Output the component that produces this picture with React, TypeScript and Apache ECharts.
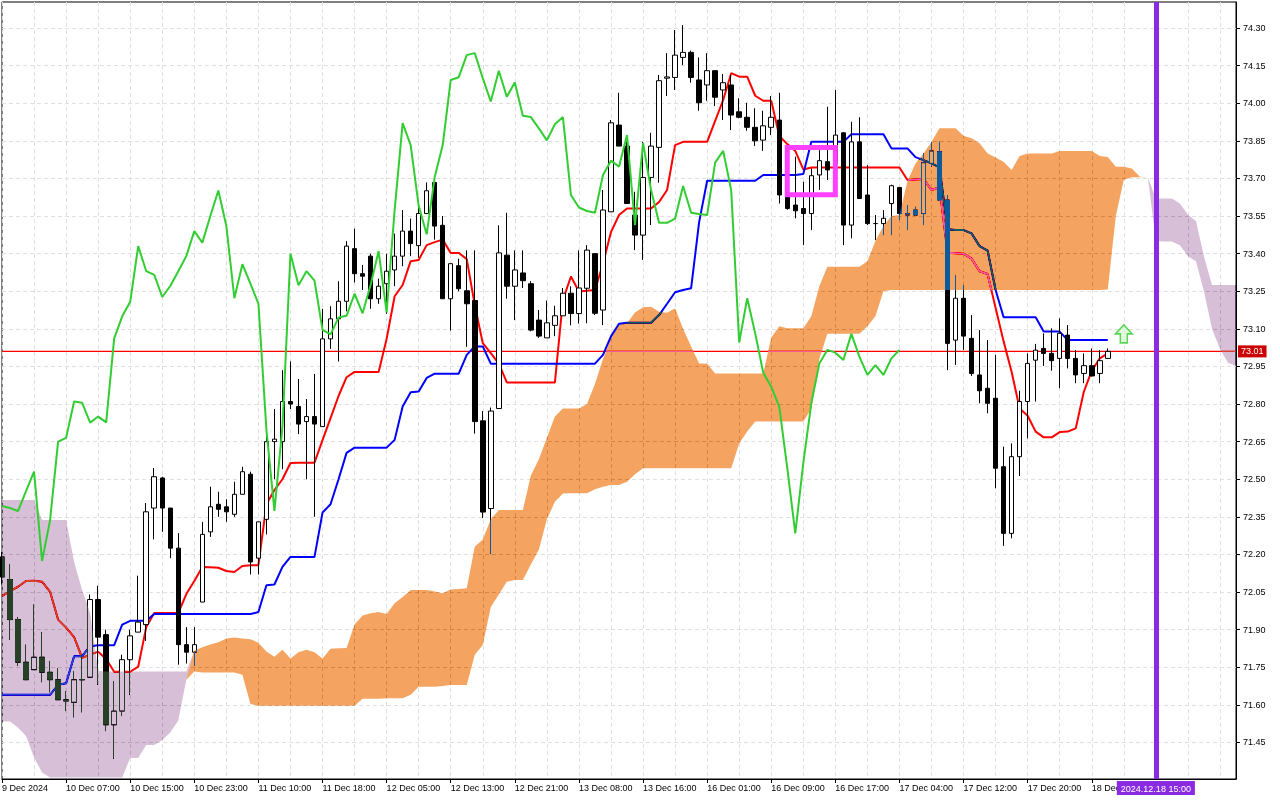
import React, { useEffect, useRef } from "react";
import * as echarts from "echarts";

// ---------- data (hourly bars, index k = slot on the axis) ----------
const timeLabels = [
  "9 Dec 2024", "10 Dec 07:00", "10 Dec 15:00", "10 Dec 23:00", "11 Dec 10:00", "11 Dec 18:00",
  "12 Dec 05:00", "12 Dec 13:00", "12 Dec 21:00", "13 Dec 08:00", "13 Dec 16:00", "16 Dec 01:00",
  "16 Dec 09:00", "16 Dec 17:00", "17 Dec 04:00", "17 Dec 12:00", "17 Dec 20:00", "18 Dec 04:00",
];
const BAR_SLOTS = 155;

const opens = [
  72.19, 72.10, 71.94, 71.77, 71.74, 71.79, 71.73, 71.70, 71.62, 71.61,
  71.70, 71.71, 72.02, 71.88, 71.52, 71.575, 71.78, 71.89, 71.92, 72.385,
  72.505, 72.385, 72.225, 71.84, 71.81, 72.01, 72.29, 72.40, 72.39, 72.36,
  72.44, 72.52, 72.185, 72.34, 72.65, 72.65, 72.81, 72.79, 72.73, 72.75,
  72.71, 73.06, 73.14, 73.21, 73.42, 73.32, 73.39, 73.22, 73.28, 73.335,
  73.39, 73.49, 73.432, 73.56, 73.684, 73.513, 73.22, 73.352, 73.252, 73.213,
  72.733, 72.383, 72.782, 73.394, 73.27, 73.323, 73.28, 73.135, 73.064, 73.114,
  73.152, 73.242, 73.161, 73.262, 73.40, 73.175, 73.567, 73.913, 73.829, 73.554,
  73.474, 73.704, 73.824, 74.10, 74.103, 74.183, 74.203, 74.093, 74.073, 74.13,
  74.053, 74.073, 73.966, 73.944, 73.904, 73.853, 73.904, 73.933, 73.627, 73.594,
  73.58, 73.56, 73.714, 73.767, 73.76, 73.882, 73.514, 73.846, 73.634, 73.52,
  73.52, 73.60, 73.664, 73.554, 73.574, 73.56, 73.76, 73.807, 73.614, 73.055,
  73.222, 73.062, 72.916, 72.863, 72.823, 72.55, 72.284, 72.59, 72.81, 72.975,
  73.022, 73.002, 72.982, 73.075, 72.982, 72.922, 72.953, 72.922, 72.982,
];
const highs = [
  72.21, 72.16, 71.95, 71.84, 72.00, 71.89, 71.775, 71.745, 71.655, 71.735,
  71.80, 72.04, 72.075, 71.90, 71.695, 71.80, 71.90, 72.115, 72.405, 72.545,
  72.51, 72.385, 72.285, 71.91, 71.91, 72.33, 72.47, 72.45, 72.42, 72.49,
  72.55, 72.53, 72.33, 72.68, 72.78, 72.935, 72.97, 72.90, 72.82, 72.92,
  73.18, 73.19, 73.29, 73.45, 73.50, 73.355, 73.40, 73.30, 73.40, 73.48,
  73.574, 73.54, 73.59, 73.684, 73.69, 73.55, 73.36, 73.38, 73.413, 73.413,
  72.772, 72.786, 73.513, 73.563, 73.413, 73.413, 73.29, 73.175, 73.213, 73.192,
  73.263, 73.27, 73.413, 73.434, 73.40, 73.654, 73.933, 74.042, 73.873, 73.647,
  73.846, 73.882, 74.113, 74.20, 74.292, 74.312, 74.21, 74.183, 74.20, 74.13,
  74.117, 74.113, 74.02, 74.002, 73.98, 73.97, 74.029, 74.042, 73.63, 73.787,
  73.687, 73.74, 73.813, 73.986, 74.053, 73.885, 73.926, 73.944, 73.753, 73.554,
  73.574, 73.675, 73.664, 73.594, 73.587, 73.80, 73.846, 73.846, 73.634, 73.315,
  73.275, 73.155, 73.095, 73.055, 72.996, 72.63, 72.643, 72.853, 73.002, 73.04,
  73.082, 73.102, 73.142, 73.115, 73.015, 73.002, 73.022, 73.015, 73.022,
];
const lows = [
  72.08, 71.86, 71.755, 71.70, 71.74, 71.69, 71.65, 71.62, 71.575, 71.55,
  71.57, 71.71, 71.68, 71.495, 71.385, 71.555, 71.64, 71.89, 71.855, 72.26,
  72.29, 72.185, 71.76, 71.765, 71.755, 72.01, 72.27, 72.35, 72.33, 72.35,
  72.44, 72.12, 72.12, 72.28, 72.50, 72.54, 72.78, 72.68, 72.50, 72.35,
  72.71, 73.02, 72.97, 73.17, 73.285, 73.255, 73.18, 73.20, 73.16, 73.27,
  73.35, 73.39, 73.384, 73.56, 73.456, 73.22, 73.093, 73.25, 73.028, 72.682,
  72.345, 72.202, 72.782, 73.22, 73.135, 73.263, 73.09, 73.064, 73.064, 73.071,
  73.152, 73.114, 73.121, 73.122, 73.155, 73.115, 73.567, 73.829, 73.60, 73.414,
  73.375, 73.514, 73.683, 74.029, 74.053, 74.152, 74.082, 73.97, 74.01, 73.989,
  73.933, 73.893, 73.94, 73.89, 73.83, 73.81, 73.873, 73.60, 73.575, 73.541,
  73.434, 73.494, 73.654, 73.694, 73.75, 73.434, 73.461, 73.62, 73.514, 73.454,
  73.474, 73.474, 73.534, 73.494, 73.55, 73.514, 73.747, 73.61, 72.935, 72.956,
  73.016, 72.912, 72.803, 72.763, 72.464, 72.234, 72.264, 72.513, 72.663, 72.81,
  72.952, 72.933, 72.863, 72.942, 72.883, 72.883, 72.91, 72.883, 72.98,
];
const closes = [
  72.11, 71.94, 71.77, 71.70, 71.79, 71.73, 71.70, 71.62, 71.615, 71.70,
  71.70, 72.02, 71.87, 71.52, 71.575, 71.78, 71.875, 71.93, 72.37, 72.51,
  72.385, 72.225, 71.84, 71.81, 71.84, 72.28, 72.39, 72.38, 72.37, 72.44,
  72.53, 72.17, 72.33, 72.65, 72.66, 72.81, 72.80, 72.72, 72.75, 72.72,
  73.06, 73.14, 73.21, 73.43, 73.32, 73.31, 73.22, 73.27, 73.33, 73.39,
  73.49, 73.44, 73.56, 73.651, 73.51, 73.22, 73.36, 73.26, 73.20, 72.73,
  72.369, 72.772, 73.403, 73.27, 73.335, 73.292, 73.095, 73.071, 73.124, 73.152,
  73.242, 73.161, 73.263, 73.414, 73.162, 73.574, 73.922, 73.829, 73.60, 73.474,
  73.704, 73.829, 74.09, 74.105, 74.192, 74.203, 74.103, 74.002, 74.13, 74.024,
  74.082, 73.953, 73.944, 73.904, 73.85, 73.91, 73.944, 73.634, 73.58, 73.571,
  73.56, 73.711, 73.771, 73.734, 73.873, 73.514, 73.846, 73.62, 73.52, 73.52,
  73.541, 73.671, 73.56, 73.56, 73.554, 73.763, 73.81, 73.614, 73.042, 73.222,
  73.071, 72.922, 72.853, 72.803, 72.544, 72.284, 72.59, 72.81, 72.962, 73.015,
  73.002, 72.973, 73.082, 72.982, 72.916, 72.953, 72.912, 72.973, 73.01,
];

const tenkan = [
  72.034, 72.054, 72.071, 72.094, 72.095, 72.091, 72.051, 71.94, 71.908, 71.87,
  71.787, 71.80, 71.812, 71.783, 71.732, 71.732, 71.732, 71.752, 71.91, 71.966,
  71.966, 71.966, 71.966, 72.042, 72.094, 72.15, 72.149, 72.147, 72.134, 72.13,
  72.154, 72.157, 72.157, 72.40, 72.457, 72.50, 72.565, 72.566, 72.566, 72.566,
  72.656, 72.744, 72.832, 72.907, 72.928, 72.928, 72.928, 72.928, 73.06, 73.23,
  73.275, 73.37, 73.375, 73.434, 73.446, 73.456, 73.403, 73.403, 73.378, 73.195,
  73.043, 73.003, 72.961, 72.886, 72.886, 72.886, 72.886, 72.886, 72.886, 72.886,
  73.215, 73.309, 73.249, 73.252, 73.255, 73.36, 73.486, 73.554, 73.58, 73.58,
  73.58, 73.58, 73.606, 73.654, 73.833, 73.846, 73.846, 73.846, 73.846, 73.93,
  74.013, 74.12, 74.106, 74.106, 74.03, 74.01, 74.01, 73.87, 73.837, 73.81,
  73.736, 73.744, 73.744, 73.744, 73.744, 73.744, 73.744, 73.744, 73.744, 73.744,
  73.744, 73.744, 73.744, 73.694, 73.696, 73.698, 73.654, 73.665, 73.404, 73.402,
  73.40, 73.38, 73.33, 73.319, 73.183, 73.05, 72.928, 72.782, 72.753, 72.69,
  72.667, 72.667, 72.688, 72.69, 72.703, 72.848, 72.933, 72.982, 73.002,
];
const kijun = [
  71.64, 71.64, 71.64, 71.64, 71.64, 71.64, 71.64, 71.68, 71.686, 71.794,
  71.794, 71.834, 71.838, 71.838, 71.838, 71.92, 71.935, 71.935, 71.935, 71.962,
  71.962, 71.962, 71.962, 71.962, 71.962, 71.962, 71.962, 71.962, 71.962, 71.962,
  71.962, 71.962, 71.97, 72.077, 72.08, 72.15, 72.19, 72.19, 72.19, 72.19,
  72.367, 72.40, 72.50, 72.605, 72.626, 72.626, 72.626, 72.626, 72.626, 72.657,
  72.79, 72.847, 72.85, 72.904, 72.921, 72.921, 72.921, 72.921, 72.996, 73.03,
  73.03, 72.961, 72.961, 72.961, 72.961, 72.961, 72.961, 72.961, 72.961, 72.961,
  72.961, 72.961, 72.961, 72.961, 72.961, 72.996, 73.07, 73.12, 73.124, 73.124,
  73.124, 73.124, 73.155, 73.20, 73.246, 73.255, 73.262, 73.526, 73.691, 73.691,
  73.691, 73.691, 73.691, 73.691, 73.691, 73.714, 73.714, 73.714, 73.714, 73.714,
  73.718, 73.846, 73.846, 73.846, 73.846, 73.846, 73.876, 73.876, 73.876, 73.876,
  73.876, 73.82, 73.82, 73.82, 73.785, 73.773, 73.76, 73.744, 73.497, 73.494,
  73.494, 73.481, 73.43, 73.412, 73.255, 73.146, 73.146, 73.146, 73.146, 73.146,
  73.089, 73.089, 73.089, 73.055, 73.055, 73.055, 73.055, 73.055, 73.055,
];
const chikou = [
  72.393, 72.385, 72.373, 72.453, 72.53, 72.174, 72.337, 72.65, 72.665, 72.81,
  72.805, 72.726, 72.75, 72.727, 73.062, 73.15, 73.208, 73.43, 73.33, 73.315,
  73.227, 73.271, 73.33, 73.39, 73.49, 73.444, 73.55, 73.652, 73.51, 73.222,
  73.358, 73.28, 73.201, 72.697, 72.374, 72.71, 73.40, 73.274, 73.33, 73.292,
  73.096, 73.078, 73.145, 73.152, 73.24, 73.162, 73.275, 73.41, 73.166, 73.574,
  73.921, 73.833, 73.591, 73.477, 73.706, 73.833, 74.093, 74.104, 74.192, 74.20,
  74.10, 74.007, 74.13, 74.026, 74.083, 73.95, 73.945, 73.90, 73.852, 73.916,
  73.945, 73.634, 73.584, 73.57, 73.563, 73.714, 73.771, 73.747, 73.873, 73.514,
  73.842, 73.654, 73.523, 73.523, 73.54, 73.67, 73.563, 73.558, 73.554, 73.763,
  73.81, 73.654, 73.045, 73.222, 73.082, 72.925, 72.869, 72.79, 72.545, 72.284,
  72.564, 72.803, 72.962, 73.016, 73.005, 72.976, 73.08, 72.989, 72.916, 72.955,
  72.916, 72.982, 73.016,
];
const spanA = [
  71.533, 71.533, 71.508, 71.476, 71.39, 71.33, 71.31, 71.31, 71.31, 71.31,
  71.31, 71.31, 71.31, 71.31, 71.31, 71.31, 71.388, 71.388, 71.44, 71.44,
  71.46, 71.49, 71.537, 71.70, 71.816, 71.83, 71.841, 71.85, 71.865, 71.869,
  71.865, 71.862, 71.848, 71.813, 71.792, 71.82, 71.785, 71.81, 71.82, 71.81,
  71.785, 71.824, 71.826, 71.827, 71.92, 71.956, 71.965, 71.97, 71.962, 72.005,
  72.03, 72.058, 72.058, 72.058, 72.052, 72.045, 72.06, 72.062, 72.065, 72.231,
  72.26, 72.34, 72.377, 72.377, 72.377, 72.377, 72.515, 72.58, 72.665, 72.75,
  72.782, 72.782, 72.782, 72.80, 72.88, 72.98, 73.06, 73.115, 73.122, 73.165,
  73.186, 73.188, 73.168, 73.164, 73.182, 73.10, 73.03, 72.962, 72.962, 72.922,
  72.922, 72.922, 72.922, 72.922, 72.922, 72.922, 73.065, 73.11, 73.102, 73.102,
  73.102, 73.15, 73.27, 73.348, 73.348, 73.348, 73.348, 73.348, 73.37, 73.45,
  73.51, 73.55, 73.554, 73.69, 73.76, 73.80, 73.846, 73.90, 73.90, 73.90,
  73.87, 73.86, 73.84, 73.80, 73.784, 73.767, 73.734, 73.79, 73.80, 73.80,
  73.80, 73.80, 73.81, 73.81, 73.81, 73.81, 73.81, 73.79, 73.786, 73.747,
  73.747, 73.74, 73.707, 73.705, 73.45, 73.448, 73.448, 73.434, 73.39, 73.37,
  73.25, 73.10, 73.02, 72.965, 72.952,
];
const spanB = [
  72.417, 72.417, 72.417, 72.417, 72.417, 72.337, 72.337, 72.337, 72.337, 72.17,
  72.058, 71.966, 71.735, 71.733, 71.733, 71.733, 71.733, 71.733, 71.733, 71.733,
  71.733, 71.733, 71.733, 71.733, 71.733, 71.729, 71.729, 71.729, 71.729, 71.729,
  71.72, 71.603, 71.596, 71.596, 71.596, 71.596, 71.596, 71.596, 71.596, 71.596,
  71.596, 71.596, 71.596, 71.596, 71.596, 71.624, 71.624, 71.624, 71.626, 71.626,
  71.626, 71.64, 71.672, 71.672, 71.672, 71.675, 71.679, 71.679, 71.679, 71.80,
  71.839, 71.99, 72.04, 72.091, 72.098, 72.098, 72.16, 72.22, 72.34, 72.41,
  72.443, 72.444, 72.444, 72.444, 72.46, 72.47, 72.477, 72.477, 72.49, 72.52,
  72.544, 72.544, 72.544, 72.544, 72.544, 72.544, 72.544, 72.544, 72.544, 72.544,
  72.544, 72.544, 72.643, 72.69, 72.73, 72.73, 72.73, 72.73, 72.73, 72.73,
  72.73, 72.78, 72.98, 73.08, 73.08, 73.08, 73.08, 73.08, 73.11, 73.15,
  73.25, 73.255, 73.255, 73.255, 73.255, 73.255, 73.255, 73.255, 73.255, 73.255,
  73.255, 73.255, 73.255, 73.255, 73.255, 73.255, 73.255, 73.255, 73.255, 73.255,
  73.255, 73.255, 73.255, 73.255, 73.255, 73.255, 73.255, 73.255, 73.257, 73.55,
  73.695, 73.705, 73.705, 73.705, 73.62, 73.62, 73.62, 73.60, 73.555, 73.53,
  73.39, 73.275, 73.275, 73.275, 73.275,
];
const priceTicks = [
  71.45, 71.6, 71.75, 71.9, 72.05, 72.2, 72.35, 72.5, 72.65, 72.8,
  72.95, 73.1, 73.25, 73.4, 73.55, 73.7, 73.85, 74.0, 74.15, 74.3,
];
const lastPrice = 73.01;
const futureMarker = { index: 144, label: "2024.12.18 15:00" };
const signalBox = { from: 98, to: 104, top: 73.823, bottom: 73.635 };
const arrowSignal = [140, 73.08];

// ---------- derived structures for the library ----------
const categories = Array.from({ length: BAR_SLOTS }, (_, i) => `bar${i}`);
const candleData = opens.map((o, i) => [o, closes[i], lows[i], highs[i]]);
const priceLevel = categories.map(() => lastPrice);
const cloudBase = spanA.map((a, i) => Math.min(a, spanB[i]));
const cloudBull = spanA.map((a, i) => Math.max(a - spanB[i], 0));
const cloudBear = spanA.map((a, i) => Math.max(spanB[i] - a, 0));

const FONT = "'Liberation Sans', Arial, sans-serif";
const BULL_INV = "#0b5b9f"; // inverse of sandy brown; painted with difference blending
const BEAR_INV = "#274027"; // inverse of thistle
const labelAt = (i: number) => i % 8 === 0 && i / 8 < timeLabels.length;

const option: any = {
  animation: false,
  backgroundColor: "#ffffff",
  graphic: [
    { type: "rect", z: -100, silent: true, shape: { x: 0, y: 0, width: 1280, height: 800 }, style: { fill: "#ffffff" } },
  ],
  grid: {
    left: 2, right: 44, top: 2, bottom: 21,
    show: true, borderColor: "#000", borderWidth: 1,
    outerBoundsMode: "none",
  },
  xAxis: {
    type: "category",
    data: categories,
    boundaryGap: false,
    axisLine: { show: true, lineStyle: { color: "#000", width: 1 } },
    axisTick: { show: true, length: 4, interval: (i: number) => labelAt(i), lineStyle: { color: "#000" } },
    axisLabel: {
      interval: (i: number) => labelAt(i),
      formatter: (_v: string, i: number) => (labelAt(i) ? timeLabels[i / 8] : ""),
      align: "left", margin: 4, fontSize: 9, color: "#000", fontFamily: FONT,
    },
    splitLine: { show: true, interval: 3, lineStyle: { color: "#e0e0e0", type: [4, 3], width: 1 } },
  },
  yAxis: {
    type: "value",
    position: "right",
    min: 71.304,
    max: 74.404,
    axisLine: { show: true, lineStyle: { color: "#000", width: 1 } },
    axisTick: { show: true, length: 4, customValues: priceTicks, lineStyle: { color: "#000" } },
    axisLabel: {
      customValues: priceTicks,
      formatter: (v: number) => v.toFixed(2),
      margin: 7, fontSize: 9, color: "#000", fontFamily: FONT,
    },
    splitLine: { show: true, lineStyle: { color: "#e0e0e0", type: [4, 3], width: 1 } },
  },
  series: [
    {
      type: "candlestick",
      data: candleData,
      barWidth: 5,
      z: 2,
      itemStyle: { color: "#ffffff", color0: "#000000", borderColor: "#000000", borderColor0: "#000000", borderWidth: 1 },
    },
    {
      type: "line", name: "Price", data: priceLevel, symbol: "none", z: 2, silent: true,
      lineStyle: { color: "#ff0000", width: 1.2, opacity: 1 },
      endLabel: {
        show: true, distance: 2, formatter: () => lastPrice.toFixed(2),
        color: "#fff", backgroundColor: "#cc0000", padding: [2, 3, 1, 3], fontSize: 9, fontFamily: FONT,
      },
    },
    { type: "line", name: "Tenkan", data: tenkan, symbol: "none", z: 2, lineStyle: { color: "#ff0000", width: 2 } },
    { type: "line", name: "Kijun", data: kijun, symbol: "none", z: 2, lineStyle: { color: "#0000ff", width: 2 } },
    {
      type: "line", name: "cloudBase", data: cloudBase, stack: "cloud", symbol: "none", clip: false, z: 3,
      lineStyle: { width: 0, opacity: 0 }, silent: true,
    },
    {
      type: "line", name: "cloudBull", data: cloudBull, stack: "cloud", symbol: "none", clip: false, z: 3,
      lineStyle: { width: 0, opacity: 0 }, areaStyle: { color: BULL_INV, opacity: 1 }, silent: true,
    },
    {
      type: "line", name: "cloudBear", data: cloudBear, stack: "cloud", symbol: "none", clip: false, z: 3,
      lineStyle: { width: 0, opacity: 0 }, areaStyle: { color: BEAR_INV, opacity: 1 }, silent: true,
    },
    { type: "line", name: "Chikou", data: chikou, symbol: "none", z: 6, lineStyle: { color: "#32cd32", width: 2 } },
    {
      type: "scatter",
      data: [arrowSignal],
      z: 7,
      symbol: "path://M8.5,0 L17,9 L12,9 L12,18 L5,18 L5,9 L0,9 Z",
      symbolSize: [17, 18],
      itemStyle: { color: "#dcf8d4", borderColor: "#33cc33", borderWidth: 1.5 },
      silent: true,
      markArea: {
        z: 7, silent: true,
        label: { show: false },
        itemStyle: { color: "rgba(0,0,0,0)", borderColor: "#ff40ff", borderWidth: 5 },
        data: [[
          { xAxis: categories[signalBox.from], yAxis: signalBox.top },
          { xAxis: categories[signalBox.to], yAxis: signalBox.bottom },
        ]],
      },
      markLine: {
        z: 8, silent: true, symbol: ["none", "none"], animation: false,
        data: [{ xAxis: categories[futureMarker.index] }],
        lineStyle: { color: "#8a2be2", width: 5, type: "solid" },
        label: {
          show: true, position: "start", distance: 2, formatter: futureMarker.label,
          color: "#fff", backgroundColor: "#8a2be2", padding: [3, 4, 2, 4], fontSize: 9, fontFamily: FONT,
        },
      },
    },
  ],
};

export default function App() {
  const ref = useRef<HTMLDivElement>(null);
  useEffect(() => {
    document.body.style.margin = "0";
    const el = ref.current as HTMLDivElement;
    const chart = echarts.init(el, null, { renderer: "svg" });
    chart.setOption(option);
    const targets = [BULL_INV, "rgb(11,91,159)", BEAR_INV, "rgb(39,64,39)"];
    const fillOf = (n: Element) => (n.getAttribute("fill") || "").replace(/\s/g, "").toLowerCase();
    const isTarget = (n: Element) => targets.indexOf(fillOf(n)) >= 0;
    const harmless = (n: Element) => {
      const tag = n.tagName.toLowerCase();
      if (tag === "g") return true;
      if (isTarget(n)) return true;
      return fillOf(n) === "none";
    };
    // The cloud is painted in "difference" mode, like the terminal's XOR fill:
    // white shows the cloud colour, black candles turn blue, the red line turns pink.
    const blend = () => {
      el.querySelectorAll("path").forEach((p) => {
        if (!isTarget(p)) return;
        (p as SVGElement).style.mixBlendMode = "difference";
        let node: Element = p;
        while (node.parentElement && node.parentElement.tagName.toLowerCase() === "g") {
          const g = node.parentElement;
          const all = Array.from(g.querySelectorAll("*"));
          if (all.every(harmless)) node = g;
          else break;
        }
        if (node !== p) (node as SVGElement).style.mixBlendMode = "difference";
      });
    };
    blend();
    chart.on("finished", blend);
    const t = window.setTimeout(blend, 30);
    return () => {
      window.clearTimeout(t);
      chart.dispose();
    };
  }, []);
  return <div ref={ref} style={{ position: "absolute", left: 0, top: 0, width: 1280, height: 800 }} />;
}
